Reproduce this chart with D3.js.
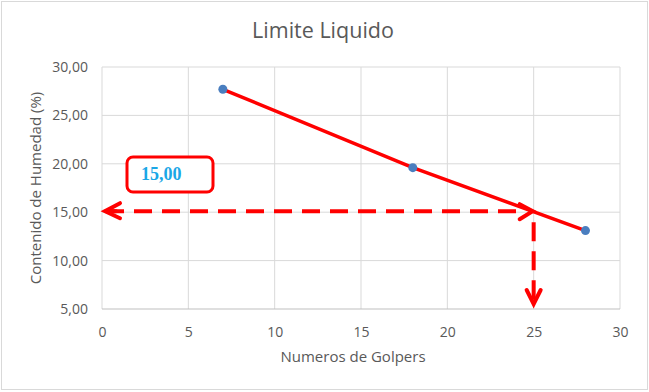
<!DOCTYPE html>
<html>
<head>
<meta charset="utf-8">
<script src="https://cdn.jsdelivr.net/npm/d3@7/dist/d3.min.js"></script>
<style>
  html, body { margin: 0; padding: 0; background: #fff; }
  svg { display: block; }
  text { font-family: "Open Sans", Lato, sans-serif; fill: #595959; }
</style>
</head>
<body>
<svg id="chart" width="649" height="392"></svg>
<script>
// Liquid limit test: blows vs. moisture content
const golpes = [7, 18, 28];
const humedad = [27.7, 19.6, 13.1];
const xTicks = [0, 5, 10, 15, 20, 25, 30];
const yTicks = [5, 10, 15, 20, 25, 30];
const limiteGolpes = 25;
const limiteHumedad = 15.00;

const W = 649, H = 392;
const svg = d3.select("#chart");

// outer frame
svg.append("rect")
  .attr("x", 1.5).attr("y", 1.5)
  .attr("width", W - 3).attr("height", H - 4)
  .attr("fill", "#fff").attr("stroke", "#d9d9d9");

const x = d3.scaleLinear().domain([0, 30]).range([102, 620]);
const y = d3.scaleLinear().domain([5, 30]).range([309, 67]);

const fmt = v => v.toFixed(2).replace(".", ",");

// gridlines
svg.append("g").selectAll("line").data(xTicks).join("line")
  .attr("x1", d => x(d)).attr("x2", d => x(d))
  .attr("y1", y(30)).attr("y2", y(5))
  .attr("stroke", "#d9d9d9").attr("stroke-width", 1);
svg.append("g").selectAll("line").data(yTicks).join("line")
  .attr("x1", x(0)).attr("x2", x(30))
  .attr("y1", d => y(d)).attr("y2", d => y(d))
  .attr("stroke", d => d === 5 ? "#bfbfbf" : "#d9d9d9").attr("stroke-width", 1);

// axes (labels only)
const xAxis = svg.append("g").attr("transform", `translate(0,${y(5)})`)
  .call(d3.axisBottom(x).tickValues(xTicks).tickSize(0).tickPadding(18).tickFormat(d3.format("d")));
xAxis.select(".domain").remove();
xAxis.selectAll("text").attr("font-size", 14).attr("fill", "#595959")
  .style("font-family", "'Open Sans', sans-serif");

const yAxis = svg.append("g").attr("transform", `translate(${x(0)},0)`)
  .call(d3.axisLeft(y).tickValues(yTicks).tickSize(0).tickPadding(14).tickFormat(fmt));
yAxis.select(".domain").remove();
yAxis.selectAll("text").attr("font-size", 14).attr("fill", "#595959")
  .style("font-family", "'Open Sans', sans-serif");

// titles
svg.append("text").attr("x", 323).attr("y", 38)
  .attr("text-anchor", "middle").attr("font-size", 21.5).text("Limite Liquido");
svg.append("text").attr("x", 353).attr("y", 362)
  .attr("text-anchor", "middle").attr("font-size", 15).text("Numeros de Golpers");
svg.append("text")
  .attr("transform", `translate(41,${(y(5) + y(30)) / 2}) rotate(-90)`)
  .attr("text-anchor", "middle").attr("font-size", 15).text("Contenido de Humedad (%)");

// data line
const pts = golpes.map((g, i) => [g, humedad[i]]);
svg.append("path").datum(pts)
  .attr("d", d3.line().x(d => x(d[0])).y(d => y(d[1])))
  .attr("fill", "none").attr("stroke", "#ff0000").attr("stroke-width", 3.5)
  .attr("stroke-linecap", "round");
svg.append("g").selectAll("circle").data(pts).join("circle")
  .attr("cx", d => x(d[0])).attr("cy", d => y(d[1])).attr("r", 4.5)
  .attr("fill", "#4a7ebf");

// dashed reading lines with arrowheads
const red = "#ff0000";
const yl = y(limiteHumedad) - 1, xl = x(limiteGolpes);
const g = svg.append("g").attr("stroke", red).attr("fill", "none")
  .attr("stroke-width", 4).attr("stroke-linecap", "butt");
g.append("line").attr("x1", x(0) + 10).attr("x2", xl - 8)
  .attr("y1", yl).attr("y2", yl)
  .attr("stroke-dasharray", "18 10").attr("stroke-dashoffset", -22);
g.append("line").attr("x1", xl).attr("x2", xl)
  .attr("y1", yl + 3).attr("y2", y(5) - 8)
  .attr("stroke-dasharray", "19 10").attr("stroke-dashoffset", -8);

const arrows = svg.append("g").attr("stroke", red).attr("fill", "none")
  .attr("stroke-width", 4).attr("stroke-linecap", "round").attr("stroke-linejoin", "miter");
// left-pointing
arrows.append("path").attr("d", `M${x(0) + 18},${yl - 8} L${x(0) + 3},${yl} L${x(0) + 18},${yl + 7}`);
arrows.append("line").attr("x1", x(0) + 4).attr("x2", x(0) + 14).attr("y1", yl).attr("y2", yl);
// right-pointing at the intersection
arrows.append("path").attr("d", `M${xl - 14},${yl - 7} L${xl - 1},${yl} L${xl - 14},${yl + 8}`);
// down-pointing
const yb = y(5) - 5;
arrows.append("path").attr("d", `M${xl - 7},${yb - 14} L${xl},${yb} L${xl + 7},${yb - 14}`);

// value label box
svg.append("rect").attr("x", 127).attr("y", 157).attr("width", 86).attr("height", 35)
  .attr("rx", 6).attr("fill", "#fff").attr("stroke", red).attr("stroke-width", 3);
svg.append("text").attr("x", 141).attr("y", 180)
  .attr("font-size", 18).attr("font-weight", "bold")
  .style("font-family", "'Liberation Serif', 'DejaVu Serif', serif")
  .style("fill", "#1aa7e6")
  .text(fmt(limiteHumedad));
</script>
</body>
</html>
